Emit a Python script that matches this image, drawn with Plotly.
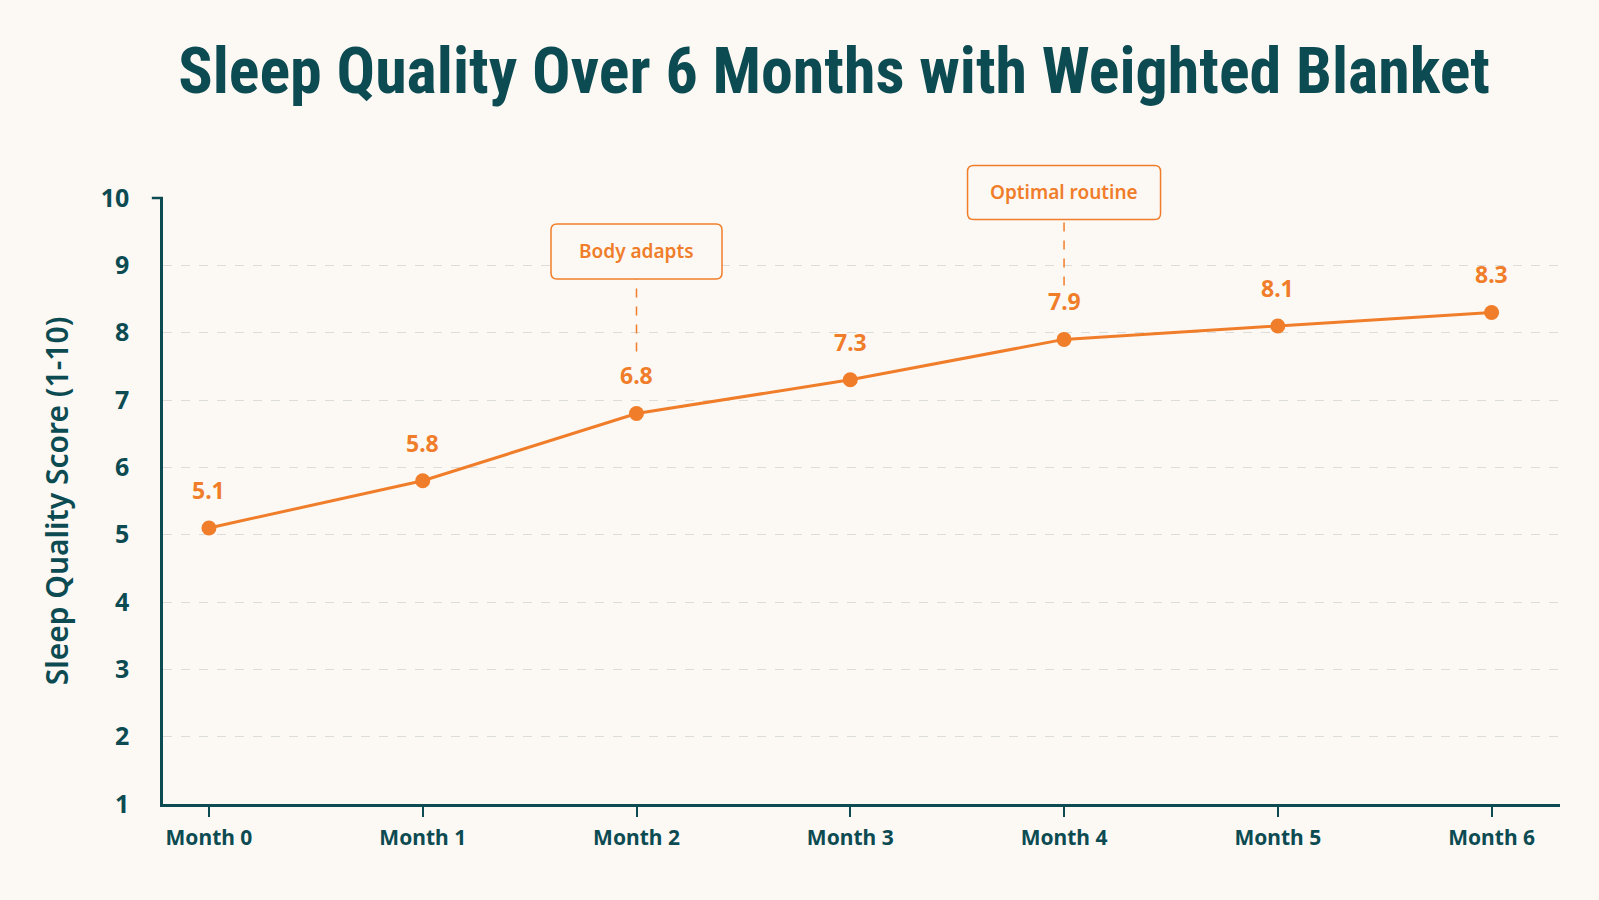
import plotly.graph_objects as go

months = ["Month 0", "Month 1", "Month 2", "Month 3", "Month 4", "Month 5", "Month 6"]
scores = [5.1, 5.8, 6.8, 7.3, 7.9, 8.1, 8.3]
y_ticks = [1, 2, 3, 4, 5, 6, 7, 8, 9, 10]
callout_months = ["Month 2", "Month 4"]
callout_texts = ["Body adapts", "Optimal routine"]

TEAL = "#0d4b52"
ORANGE = "#f07d2a"
BG = "#fcf9f4"
Y_RANGE = [1, 10]

fig = go.Figure()
fig.add_trace(go.Scatter(
    x=months, y=scores, mode="lines+markers",
    line=dict(color=ORANGE, width=3),
    marker=dict(color=ORANGE, size=15),
    cliponaxis=False, hoverinfo="skip",
))

# value labels
for m, v in zip(months, scores):
    fig.add_annotation(x=m, y=v, text=f"{v:.1f}", showarrow=False, yshift=38,
                       font=dict(family="Noto Sans", size=23, color=ORANGE, weight="bold"))


def rounded_rect(w, h, cy, r=6):
    a, b = w / 2, h / 2
    t, btm = cy + b, cy - b
    return (f"M {-a + r},{t} L {a - r},{t} Q {a},{t} {a},{t - r} "
            f"L {a},{btm + r} Q {a},{btm} {a - r},{btm} "
            f"L {-a + r},{btm} Q {-a},{btm} {-a},{btm + r} "
            f"L {-a},{t - r} Q {-a},{t} {-a + r},{t} Z")


# callouts: (box width, box height, box centre above point px, dashed line bottom above point px)
callout_geom = [(171, 55, 162, 62), (193, 54, 147, 54)]
for m, t, (w, h, cy, lb) in zip(callout_months, callout_texts, callout_geom):
    idx = months.index(m)
    v = scores[idx]
    yfrac = (v - Y_RANGE[0]) / (Y_RANGE[1] - Y_RANGE[0])  # paper anchor so shapes are not clipped
    fig.add_shape(type="line", xsizemode="pixel", ysizemode="pixel",
                  xanchor=idx, yanchor=yfrac, xref="x", yref="paper",
                  x0=0, x1=0, y0=lb, y1=cy - h / 2,
                  line=dict(color=ORANGE, width=1.5, dash="dash"))
    fig.add_shape(type="path", xsizemode="pixel", ysizemode="pixel",
                  xanchor=idx, yanchor=yfrac, xref="x", yref="paper",
                  path=rounded_rect(w, h, cy), fillcolor=BG,
                  line=dict(color=ORANGE, width=1.5))
    fig.add_annotation(x=m, y=v, text=t, showarrow=False, yshift=cy,
                       font=dict(family="Noto Sans", size=19, color=ORANGE, weight=600))

# small tick mark at top of y-axis
fig.add_shape(type="line", xref="paper", yref="paper", x0=-0.008, x1=0, y0=1, y1=1,
              line=dict(color=TEAL, width=2.5))

fig.update_layout(
    width=1599, height=900,
    paper_bgcolor=BG, plot_bgcolor=BG,
    margin=dict(l=163, r=39, t=198, b=96),
    showlegend=False,
    title=dict(text="Sleep Quality Over 6 Months with Weighted Blanket",
               x=0.5216, xanchor="center", y=1 - 71 / 900, yanchor="middle",
               font=dict(family="Roboto Condensed", size=64, color=TEAL, weight="bold")),
)
fig.update_xaxes(
    range=[-0.215, 6.32], showgrid=False, zeroline=False,
    showline=True, linecolor=TEAL, linewidth=2.5,
    ticks="outside", ticklen=10, tickwidth=2, tickcolor=TEAL,
    ticklabelstandoff=3,
    tickfont=dict(family="Noto Sans", size=21, color=TEAL, weight="bold"),
)
fig.update_yaxes(
    range=Y_RANGE, tickvals=y_ticks, zeroline=False,
    showline=True, linecolor=TEAL, linewidth=2.5,
    showgrid=True, gridcolor="#dcdcd8", griddash="dash", gridwidth=1,
    ticklabelstandoff=26,
    tickfont=dict(family="Noto Sans", size=25, color=TEAL, weight="bold"),
    title=dict(text="Sleep Quality Score (1-10)", standoff=24,
               font=dict(family="Noto Sans", size=30, color=TEAL, weight=600)),
)

fig.write_html("out.html")
